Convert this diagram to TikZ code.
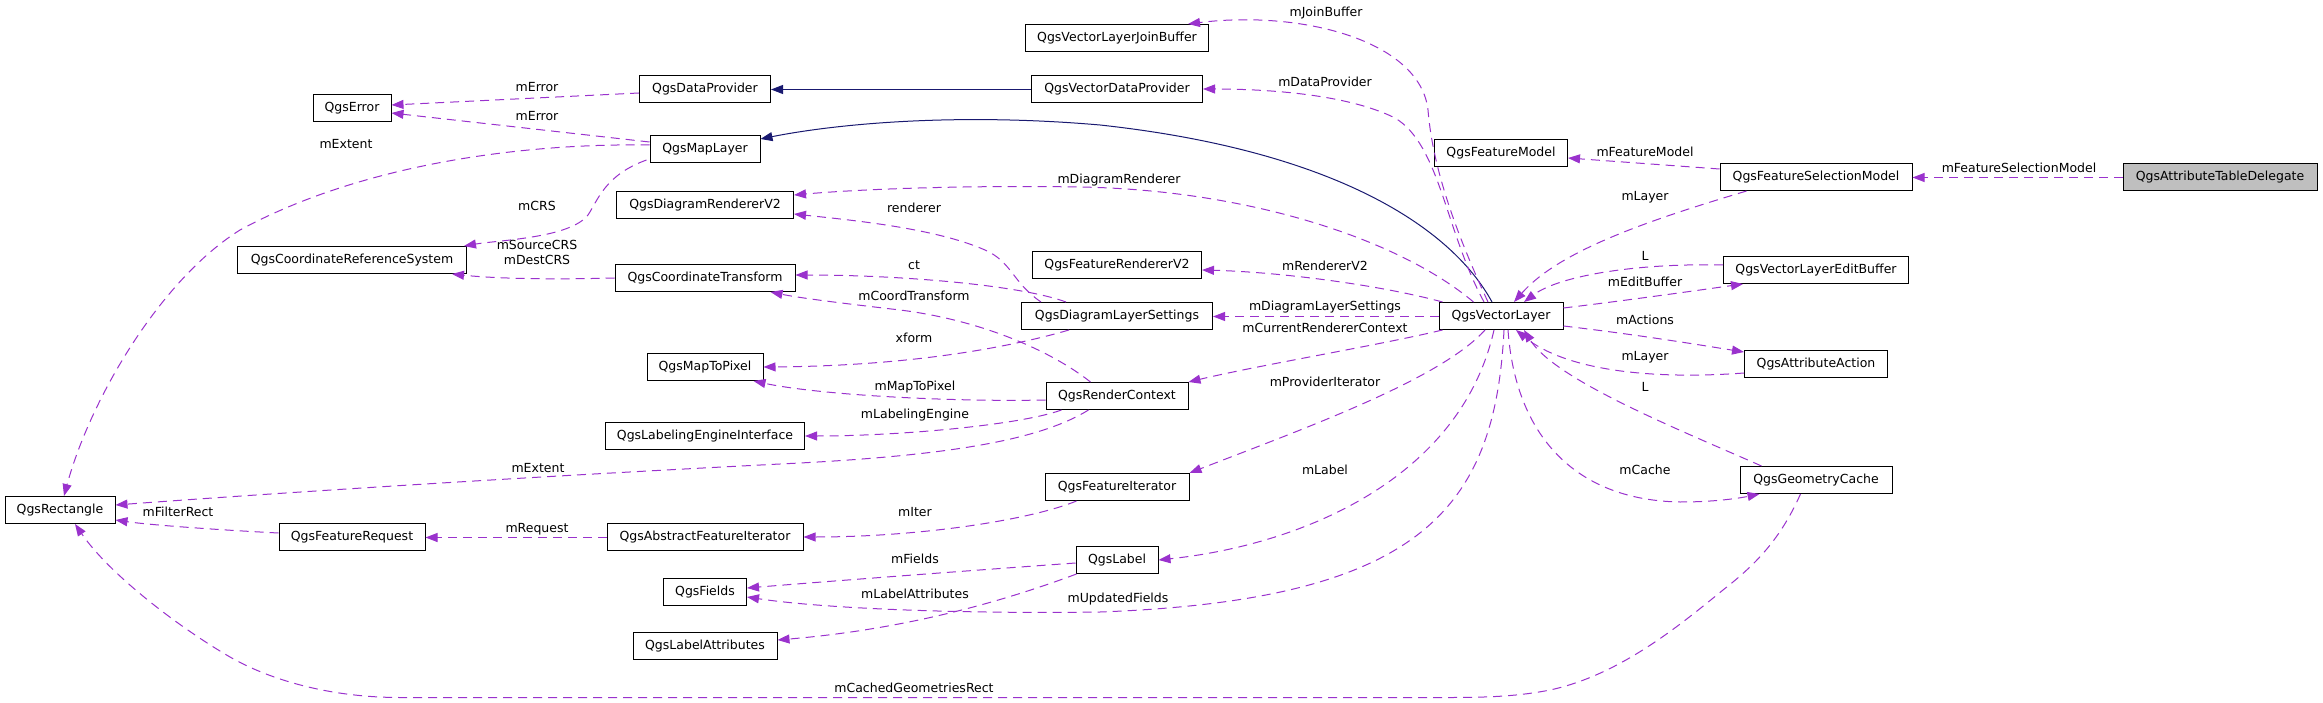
\documentclass[tikz,border=0pt]{standalone}
\usepackage{fontspec}
\setmainfont{DejaVu Sans}
\usetikzlibrary{arrows.meta,calc}
\definecolor{edgepurple}{HTML}{9A32CD}
\definecolor{inhblue}{HTML}{191970}
\definecolor{focusgray}{HTML}{BFBFBF}
\begin{document}
\begin{tikzpicture}[x=1pt,y=-1pt,
  cls/.style={draw=black, line width=1pt, fill=white, minimum height=27pt, inner sep=0pt,
              font=\fontsize{12.5}{15}\selectfont},
  focus/.style={cls, fill=focusgray},
  uses/.style={draw=edgepurple, line width=1pt, dash pattern=on 9pt off 6pt,
               -{Triangle[length=12pt,width=9pt]}},
  inherit/.style={draw=inhblue, line width=1pt, -{Triangle[length=12pt,width=9pt]}},
  elabel/.style={inner sep=0pt, font=\fontsize{12.5}{15}\selectfont, text height=9pt, text depth=2.5pt, align=center}
]
\useasboundingbox (0,0) rectangle (2323,703);

% ---------- class boxes ----------
\node[cls, minimum width=183pt] (jb)  at (1117,38)  {QgsVectorLayerJoinBuffer};
\node[cls, minimum width=171pt] (vdp) at (1117,89)  {QgsVectorDataProvider};
\node[cls, minimum width=131pt] (dp)  at (705,89)   {QgsDataProvider};
\node[cls, minimum width=78pt]  (err) at (352,108)  {QgsError};
\node[cls, minimum width=110pt] (ml)  at (705,149)  {QgsMapLayer};
\node[cls, minimum width=177pt] (drv) at (705,205)  {QgsDiagramRendererV2};
\node[cls, minimum width=229pt] (crs) at (352,260)  {QgsCoordinateReferenceSystem};
\node[cls, minimum width=180pt] (ctr) at (705,278)  {QgsCoordinateTransform};
\node[cls, minimum width=133pt] (fm)  at (1501,153) {QgsFeatureModel};
\node[cls, minimum width=192pt] (fsm) at (1816,177) {QgsFeatureSelectionModel};
\node[focus, minimum width=194pt] (atd) at (2220,177) {QgsAttributeTableDelegate};
\node[cls, minimum width=169pt] (frv) at (1117,265) {QgsFeatureRendererV2};
\node[cls, minimum width=191pt] (dls) at (1117,316) {QgsDiagramLayerSettings};
\node[cls, minimum width=124pt] (vl)  at (1501,316) {QgsVectorLayer};
\node[cls, minimum width=185pt] (eb)  at (1816,270) {QgsVectorLayerEditBuffer};
\node[cls, minimum width=143pt] (aa)  at (1816,364) {QgsAttributeAction};
\node[cls, minimum width=116pt] (mtp) at (705,367)  {QgsMapToPixel};
\node[cls, minimum width=142pt] (rc)  at (1117,396) {QgsRenderContext};
\node[cls, minimum width=199pt] (lei) at (705,436)  {QgsLabelingEngineInterface};
\node[cls, minimum width=144pt] (fi)  at (1117,487) {QgsFeatureIterator};
\node[cls, minimum width=196pt] (afi) at (705,537)  {QgsAbstractFeatureIterator};
\node[cls, minimum width=152pt] (gc)  at (1816,480) {QgsGeometryCache};
\node[cls, minimum width=110pt] (rect) at (60,510)  {QgsRectangle};
\node[cls, minimum width=146pt] (freq) at (352,537) {QgsFeatureRequest};
\node[cls, minimum width=82pt]  (qlabel) at (1117,560) {QgsLabel};
\node[cls, minimum width=83pt]  (flds) at (705,592)  {QgsFields};
\node[cls, minimum width=144pt] (la)  at (705,646)  {QgsLabelAttributes};

% ---------- inheritance ----------
\draw[inherit] ($(vdp.west)+(0,0.5)$) -- ($(dp.east)+(0,0.5)$);
\draw[inherit] ($(vl.north)+(-9,0)$) .. controls (1450,225) and (1330,150) .. (1100,125)
               .. controls (950,112) and (830,125) .. ($(ml.east)+(0,-10)$);

% ---------- usage ----------
\draw[uses] ($(dp.west)+(0,4)$) -- ($(err.east)+(0,-3)$);
\draw[uses] ($(ml.north west)+(0,7)$) -- ($(err.east)+(0,5)$);
\draw[uses] ($(ml.west)+(0,-4)$) .. controls (520,143) and (360,165) .. (240,230)
            .. controls (160,280) and (90,400) .. ($(rect.north)+(4,0)$);
\draw[uses] ($(ml.south west)+(-3,-3)$) .. controls (605,175) and (598,200) .. (588,215)
            .. controls (570,238) and (500,240) .. ($(crs.north east)+(-3,0)$);
\draw[uses] (ctr.west) .. controls (540,280) and (490,278) .. ($(crs.south east)+(-15,0)$);

\draw[uses] ($(vl.north)+(-13,0)$) .. controls (1450,220) and (1432,160) .. (1428,110)
            .. controls (1420,40) and (1300,10) .. ($(jb.north east)+(-21,0)$);
\draw[uses] ($(vl.north)+(-17,0)$) .. controls (1445,230) and (1440,145) .. (1395,118)
            .. controls (1345,93) and (1260,89) .. (vdp.east);
\draw[uses] ($(vl.north west)+(35,0)$) .. controls (1400,240) and (1250,190) .. (1080,187)
            .. controls (950,185) and (850,190) .. ($(drv.east)+(0,-10)$);
\draw[uses] ($(dls.north west)+(20,0)$) .. controls (1012,282) and (1012,262) .. (985,250)
            .. controls (935,228) and (850,220) .. ($(drv.east)+(0,9)$);
\draw[uses] ($(dls.north west)+(45,0)$) .. controls (1020,285) and (900,275) .. ($(ctr.east)+(0,-3)$);
\draw[uses] ($(rc.north west)+(45,0)$) .. controls (1050,350) and (980,320) .. (900,310)
            .. controls (840,303) and (800,298) .. ($(ctr.south east)+(-25,0)$);
\draw[uses] ($(dls.south west)+(48,0)$) .. controls (1000,350) and (900,366) .. (mtp.east);
\draw[uses] ($(rc.west)+(0,4)$) .. controls (950,402) and (820,395) .. ($(mtp.south east)+(-10,0)$);
\draw[uses] ($(rc.south west)+(16,0)$) .. controls (1020,425) and (900,436) .. (lei.east);
\draw[uses] ($(rc.south west)+(43,0)$) .. controls (1040,440) and (950,455) .. (800,463)
            .. controls (500,478) and (250,495) .. ($(rect.east)+(0,-5)$);
\draw[uses] ($(vl.north west)+(4,0)$) .. controls (1380,285) and (1280,272) .. ($(frv.east)+(0,5)$);
\draw[uses] ($(vl.west)+(0,0.5)$) -- ($(dls.east)+(0,0.5)$);
\draw[uses] ($(vl.south west)+(4,0)$) .. controls (1380,345) and (1260,365) .. (rc.north east);
\draw[uses] ($(vl.south)+(-16,0)$) .. controls (1440,380) and (1300,430) .. (fi.north east);
\draw[uses] ($(fi.south west)+(32,0)$) .. controls (1030,520) and (920,537) .. (afi.east);
\draw[uses] ($(afi.west)+(0,0.5)$) -- ($(freq.east)+(0,0.5)$);
\draw[uses] ($(freq.west)+(0,-4)$) .. controls (220,530) and (150,525) .. ($(rect.east)+(0,10)$);
\draw[uses] ($(vl.south)+(-7,0)$) .. controls (1460,480) and (1300,545) .. (qlabel.east);
\draw[uses] ($(qlabel.west)+(0,3)$) .. controls (950,572) and (820,582) .. ($(flds.east)+(0,-4)$);
\draw[uses] ($(qlabel.south west)+(1,0)$) .. controls (1020,595) and (920,628) .. ($(la.east)+(0,-6)$);
\draw[uses] ($(vl.south)+(3,0)$) .. controls (1495,510) and (1420,600) .. (1100,612)
            .. controls (950,614) and (820,608) .. ($(flds.east)+(0,5)$);
\draw[uses] ($(gc.south west)+(61,0)$) .. controls (1780,540) and (1755,565) .. (1723,590)
            .. controls (1680,625) and (1620,675) .. (1550,690)
            .. controls (1520,696) and (1490,697.5) .. (1450,697.5) -- (400,697.5)
            .. controls (330,697.5) and (270,680) .. (230,657)
            .. controls (180,628) and (110,575) .. ($(rect.south)+(15,0)$);
\draw[uses] ($(vl.south)+(7,0)$) .. controls (1515,430) and (1570,500) .. (1680,502)
            .. controls (1720,502) and (1745,497) .. ($(gc.south west)+(20,0)$);
\draw[uses] ($(gc.north west)+(22,0)$) .. controls (1680,430) and (1555,380) .. ($(vl.south)+(23,0)$);
\draw[uses] ($(vl.east)+(0,10)$) .. controls (1640,335) and (1700,345) .. ($(aa.north west)+(0,2)$);
\draw[uses] ($(aa.west)+(0,9)$) .. controls (1650,380) and (1565,370) .. ($(vl.south)+(15,0)$);
\draw[uses] ($(vl.east)+(0,-8)$) .. controls (1630,300) and (1700,290) .. ($(eb.south west)+(20,0)$);
\draw[uses] ($(eb.west)+(0,-5)$) .. controls (1640,263) and (1560,275) .. ($(vl.north)+(23,0)$);
\draw[uses] ($(fsm.south west)+(27,0)$) .. controls (1650,220) and (1560,250) .. ($(vl.north)+(13,0)$);
\draw[uses] ($(fsm.north west)+(0,6)$) -- ($(fm.east)+(0,5)$);
\draw[uses] ($(atd.west)+(0,0.5)$) -- ($(fsm.east)+(0,0.5)$);

% ---------- edge labels ----------
\node[elabel] (l1)  at (537,88)   {mError};
\node[elabel] (l2)  at (537,117)  {mError};
\node[elabel] (l3)  at (346,145)  {mExtent};
\node[elabel] (l4)  at (537,207)  {mCRS};
\node[elabel] (l5)  at (537,261)  {mSourceCRS\\mDestCRS};
\node[elabel] (l6)  at (1326,13)  {mJoinBuffer};
\node[elabel] (l7)  at (1325,83)  {mDataProvider};
\node[elabel] (l8)  at (1119,180) {mDiagramRenderer};
\node[elabel] (l9)  at (914,209)  {renderer};
\node[elabel] (l10) at (914,266)  {ct};
\node[elabel] (l11) at (914,297)  {mCoordTransform};
\node[elabel] (l12) at (914,339)  {xform};
\node[elabel] (l13) at (1325,267) {mRendererV2};
\node[elabel] (l14) at (1325,307) {mDiagramLayerSettings};
\node[elabel] (l15) at (1325,329) {mCurrentRendererContext};
\node[elabel] (l16) at (915,387)  {mMapToPixel};
\node[elabel] (l17) at (915,415)  {mLabelingEngine};
\node[elabel] (l18) at (1325,383) {mProviderIterator};
\node[elabel] (l19) at (538,469)  {mExtent};
\node[elabel] (l20) at (178,513)  {mFilterRect};
\node[elabel] (l21) at (537,529)  {mRequest};
\node[elabel] (l22) at (1325,471) {mLabel};
\node[elabel] (l23) at (915,513)  {mIter};
\node[elabel] (l24) at (915,560)  {mFields};
\node[elabel] (l25) at (915,595)  {mLabelAttributes};
\node[elabel] (l26) at (1118,599) {mUpdatedFields};
\node[elabel] (l27) at (914,689)  {mCachedGeometriesRect};
\node[elabel] (l28) at (1645,153) {mFeatureModel};
\node[elabel] (l29) at (2019,169) {mFeatureSelectionModel};
\node[elabel] (l30) at (1645,197) {mLayer};
\node[elabel] (l31) at (1645,257) {L};
\node[elabel] (l32) at (1645,283) {mEditBuffer};
\node[elabel] (l33) at (1645,321) {mActions};
\node[elabel] (l34) at (1645,357) {mLayer};
\node[elabel] (l35) at (1645,388) {L};
\node[elabel] (l36) at (1645,471) {mCache};
\end{tikzpicture}
\end{document}
